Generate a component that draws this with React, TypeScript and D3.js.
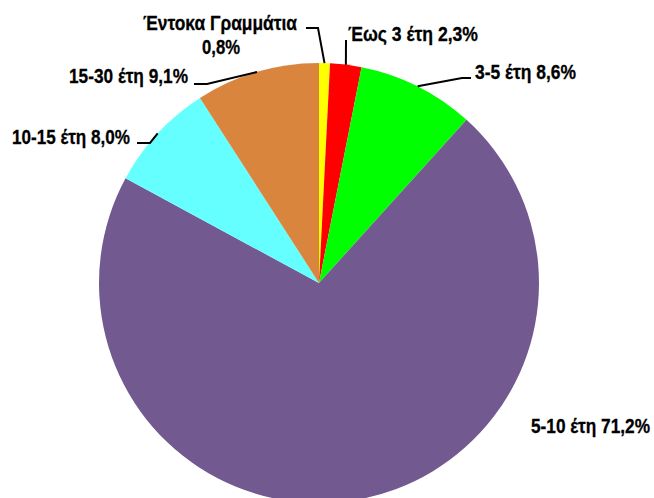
import React from "react"
import * as d3 from "d3"

const categories = ["Έντοκα Γραμμάτια", "Έως 3 έτη", "3-5 έτη", "5-10 έτη", "10-15 έτη", "15-30 έτη"]
const values = [0.8, 2.3, 8.6, 71.2, 8.0, 9.1]
const colors = ["#FFFF00", "#FF0000", "#00FF00", "#725990", "#66FFFF", "#D9853E"]

// leader line elbows and label anchors (null = no leader)
const leaders: ([number, number][] | null)[] = [
  [[318, 28], [306, 28]],
  [[346, 40]],
  [[462, 78], [471, 78]],
  null,
  [[150, 143], [137, 143]],
  [[207, 84], [194, 84]],
]
const labelPos: { x: number; y: number; anchor: string; w: number }[] = [
  { x: 220, y: 30, anchor: "middle", w: 154 },
  { x: 348, y: 41, anchor: "start", w: 130 },
  { x: 475, y: 79, anchor: "start", w: 101 },
  { x: 531, y: 433, anchor: "start", w: 119 },
  { x: 130, y: 144, anchor: "end", w: 118 },
  { x: 188, y: 83, anchor: "end", w: 119 },
]

const width = 654
const height = 498
const cx = 319
const cy = 283
const radius = 220

const fmt = (v: number) => v.toFixed(1).replace(".", ",") + "%"

export default function App() {
  const pie = d3
    .pie<number>()
    .sort(null)
    .value((d) => d)
  const arcs = pie(values)
  const arc = d3.arc<d3.PieArcDatum<number>>().innerRadius(0).outerRadius(radius)

  return (
    <div style={{ position: "absolute", left: 0, top: 0 }}>
      <svg width={width} height={height} style={{ display: "block", background: "#fff" }}>
        <g transform={`translate(${cx},${cy})`}>
          {arcs.map((a, i) => (
            <path key={i} d={arc(a) || ""} fill={colors[i]} />
          ))}
        </g>
        {arcs.map((a, i) => {
          const pts = leaders[i]
          if (!pts) return null
          const mid = (a.startAngle + a.endAngle) / 2
          const start: [number, number] = [cx + radius * Math.sin(mid), cy - radius * Math.cos(mid)]
          const line = d3.line()([start, ...pts])
          return <path key={i} d={line || ""} fill="none" stroke="#000" strokeWidth={2} />
        })}
        <g
          style={{
            fontFamily: "'Liberation Sans', Arial, sans-serif",
            fontWeight: "bold",
            fontSize: 20,
          }}
          fill="#000"
          stroke="#000"
          strokeWidth={0.3}
        >
          {categories.map((c, i) => {
            const p = labelPos[i]
            if (i === 0) {
              return (
                <g key={i}>
                  <text x={p.x} y={p.y} textAnchor="middle" textLength={p.w} lengthAdjust="spacingAndGlyphs">
                    {c}
                  </text>
                  <text x={p.x + 1} y={p.y + 24} textAnchor="middle" textLength={38} lengthAdjust="spacingAndGlyphs">
                    {fmt(values[i])}
                  </text>
                </g>
              )
            }
            return (
              <text
                key={i}
                x={p.x}
                y={p.y}
                textAnchor={p.anchor as any}
                textLength={p.w}
                lengthAdjust="spacingAndGlyphs"
              >
                {c + " " + fmt(values[i])}
              </text>
            )
          })}
        </g>
      </svg>
    </div>
  )
}
